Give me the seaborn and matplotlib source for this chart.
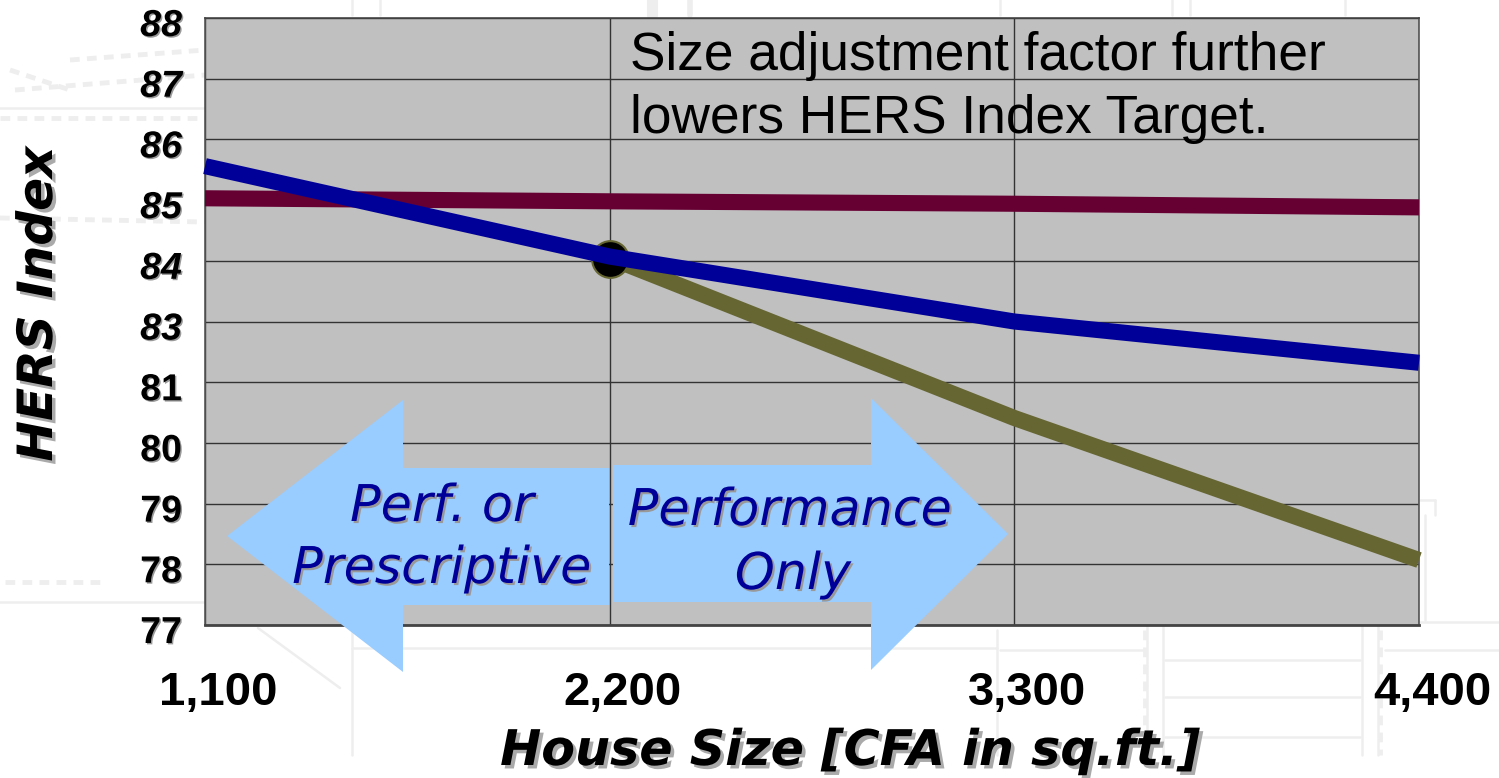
import numpy as np
import pandas as pd
import matplotlib
matplotlib.use("Agg")
import matplotlib.pyplot as plt
import matplotlib.patheffects as pe
from matplotlib.patches import Polygon
from matplotlib.lines import Line2D
from matplotlib.transforms import Affine2D
import seaborn as sns

house_size = [1100, 2200, 3300, 4400]
x_labels = ["1,100", "2,200", "3,300", "4,400"]
y_ticks = [77, 78, 79, 80, 81, 83, 84, 85, 86, 87, 88]
maroon_values = [85.03, 84.98, 84.94, 84.88]
olive_sizes = [2200, 3300, 4400]
olive_values = [84.05, 80.41, 78.07]
blue_values = [85.56, 84.07, 83.0, 81.64]
baseline_size = [2200]
baseline_value = [84.03]

W, H = 1499, 778
sns.set_style("white")
plt.rcParams["font.family"] = ["Liberation Sans", "DejaVu Sans"]
fig = plt.figure(figsize=(W / 100, H / 100), dpi=100)
px = Affine2D().scale(1 / W, -1 / H).translate(0, 1) + fig.transFigure

# faint blueprint backdrop
bg = "#eeeeee"
def seg(x0, y0, x1, y1, lw=1.8, ls="-"):
    fig.add_artist(Line2D([x0, x1], [y0, y1], color=bg, lw=lw, ls=ls, transform=px, zorder=0))
for s in [(352, 630, 352, 755), (352, 648, 997, 648), (997, 630, 997, 755),
          (1000, 650, 1145, 650), (1147, 625, 1147, 755), (1163, 625, 1163, 755),
          (1362, 625, 1362, 755), (1378, 625, 1378, 755), (1165, 660, 1360, 660),
          (1165, 697, 1360, 697), (1165, 737, 1360, 737), (1378, 622, 1499, 622),
          (1385, 650, 1499, 650), (1420, 500, 1435, 500), (1435, 500, 1435, 515),
          (1425, 515, 1425, 620), (258, 628, 340, 688), (0, 602, 205, 602),
          (0, 108, 205, 108), (352, 0, 352, 15), (380, 0, 380, 15), (1000, 0, 1000, 15),
          (1172, 0, 1172, 15), (1190, 0, 1190, 15), (1345, 0, 1345, 15)]:
    seg(*s)
for s in [(0, 118, 205, 118), (5, 582, 100, 582), (10, 70, 70, 90), (70, 60, 205, 50),
          (15, 90, 205, 75), (0, 218, 205, 222), (1145, 630, 1145, 755), (1380, 630, 1380, 755)]:
    seg(*s, lw=3.5, ls=(0, (2, 1.5)))
seg(652, 0, 652, 15, lw=8)
seg(690, 0, 690, 15, lw=4)

ax = fig.add_axes([205 / W, 1 - 625 / H, (1419 - 205) / W, (625 - 18) / H], facecolor="#c0c0c0")
pos = np.arange(len(y_ticks), dtype=float)
ax.set_yscale("function", functions=(lambda v: np.interp(v, y_ticks, pos),
                                     lambda p: np.interp(p, pos, y_ticks)))

lw = 11.6
for xs, ys, col, z in [(house_size, maroon_values, "#660033", 3),
                       (olive_sizes, olive_values, "#666633", 3.2),
                       (house_size, blue_values, "#000099", 3.6)]:
    df = pd.DataFrame({"size": xs, "hers": ys})
    sns.lineplot(data=df, x="size", y="hers", color=col, lw=lw, ax=ax, zorder=z,
                 solid_capstyle="butt", clip_on=False, errorbar=None, sort=False)
sns.scatterplot(x=baseline_size, y=baseline_value, s=700, color="black", edgecolor="#666633",
                linewidth=1.5, ax=ax, zorder=3.4, clip_on=False)

ax.set_xlim(1100, 4400)
ax.set_ylim(77, 88)
ax.set_xticks(house_size, x_labels)
ax.set_yticks(y_ticks, [str(v) for v in y_ticks])
ax.minorticks_off()
ax.grid(True, color="#333333", lw=1.0)
ax.set_axisbelow(True)
ax.tick_params(axis="x", length=8, width=1, color="#333333", labelcolor="black", pad=24, labelsize=34)
ax.tick_params(axis="y", length=8.6, width=1, color="#333333", labelcolor="black", pad=8, labelsize=27)
for lab in ax.get_xticklabels():
    lab.set_fontweight("bold")
    lab.set_transform(lab.get_transform() + Affine2D().translate(13, -2))
for lab, v in zip(ax.get_yticklabels(), y_ticks):
    lab.set_fontweight("bold")
    lab.set_fontstyle("italic" if v >= 83 else "normal")
    lab.set_transform(lab.get_transform() + Affine2D().translate(0, -4))
    lab.set_path_effects([pe.withSimplePatchShadow(offset=(1, -1), shadow_rgbFace="#999999", alpha=1)])
ax.set_xlabel("")
ax.set_ylabel("")
for name, sp in ax.spines.items():
    sp.set_visible(True)
    sp.set_color("#555555")
    sp.set_linewidth(1.2)
ax.spines["bottom"].set_color("#444444")
ax.spines["bottom"].set_linewidth(2)
ax.spines["top"].set_color("#444444")

# region arrows
arrow = "#99ccff"
left = [(227, 536), (403, 400), (403, 468), (609, 468), (609, 605), (403, 605), (403, 672)]
right = [(1008, 534), (871, 398), (871, 465), (613, 465), (613, 602), (871, 602), (871, 670)]
for poly in (left, right):
    fig.add_artist(Polygon(poly, closed=True, facecolor=arrow, edgecolor="none", transform=px, zorder=5))

shadow = [pe.withSimplePatchShadow(offset=(1.5, -1.5), shadow_rgbFace="#999999", alpha=1)]
shadow2 = [pe.withSimplePatchShadow(offset=(2.5, -2.5), shadow_rgbFace="#aaaaaa", alpha=1)]
hand = dict(family=["DejaVu Sans"], style="oblique", transform=px, ha="center", va="center", zorder=6)
for txt, x, y in [("Perf. or", 442, 507), ("Prescriptive", 442, 569),
                  ("Performance", 790, 511), ("Only", 793, 575)]:
    fig.text(x, y, txt, fontsize=36.5, color="#000099", path_effects=shadow, **hand)
fig.text(850, 751, "House Size [CFA in sq.ft.]", fontsize=35.4, weight="bold", color="black",
         path_effects=shadow2, **hand)
fig.text(38, 304, "HERS Index", fontsize=35, weight="bold", rotation=90, color="black",
         path_effects=shadow2, **hand)
for txt, y in [("Size adjustment factor further", 70), ("lowers HERS Index Target.", 133)]:
    fig.text(630, y, txt, fontsize=38.3, color="black", transform=px, ha="left", va="baseline", zorder=6)

fig.savefig("out.png", dpi=100)
